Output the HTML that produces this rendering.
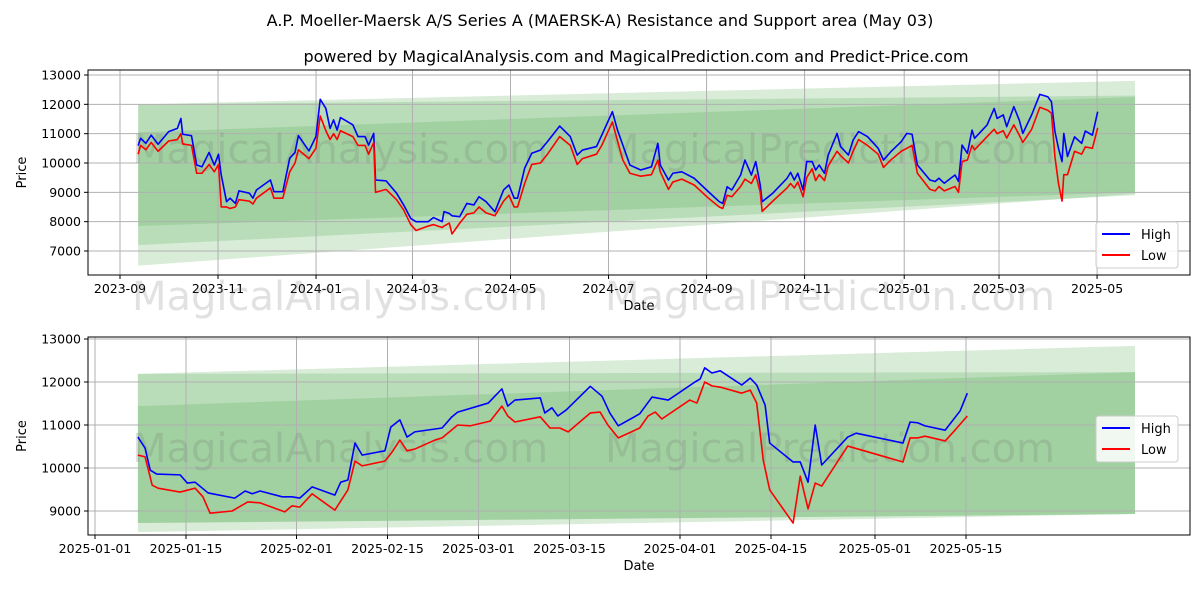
<!DOCTYPE html>
<html><head><meta charset="utf-8"><style>
body{margin:0;background:#fff;font-family:"Liberation Sans","DejaVu Sans",sans-serif}
svg text{font-family:"DejaVu Sans","Liberation Sans",sans-serif}
</style></head><body>
<svg id="c" width="1200" height="600" viewBox="0 0 1200 600" xmlns="http://www.w3.org/2000/svg">
<rect width="1200" height="600" fill="#fff"/>
<text x="600" y="26" text-anchor="middle" font-size="16">A.P. Moeller-Maersk A/S Series A (MAERSK-A) Resistance and Support area (May 03)</text>
<text x="636" y="62" text-anchor="middle" font-size="16">powered by MagicalAnalysis.com and MagicalPrediction.com and Predict-Price.com</text>
<g id="top"></g>
<g id="bot"></g>
</svg>
<script>
// ---- top chart data (days since 2023-09-01) ----
const topDays=[11.3,12.8,16.1,19.4,23.7,30.3,35.7,37.9,39.0,44.5,47.7,51.0,55.4,58.7,61.3,63.0,66.3,68.5,71.8,74.0,80.5,82.7,84.9,93.6,95.8,101.3,105.6,108.9,111.0,117.6,121.9,124.6,128.1,130.7,132.9,135.1,137.2,144.9,148.1,152.5,154.7,157.9,159.0,165.6,172.1,176.5,180.9,184.2,191.8,195.1,200.5,201.6,204.9,206.6,211.4,215.8,220.2,223.4,227.8,233.3,238.7,242.0,245.3,247.4,251.8,256.2,261.6,266.0,273.6,280.2,284.5,287.8,296.5,299.8,306.4,309.6,312.9,317.3,324.0,330.7,334.7,336.2,341.3,344.0,349.6,357.3,366.2,372.9,375.1,377.8,380.7,386.2,388.9,392.9,395.6,398.4,399.6,406.2,415.1,417.3,419.6,421.8,425.1,427.3,430.7,432.9,435.1,438.4,440.7,446.2,448.4,453.3,456.2,459.6,465.1,471.8,475.1,479.6,486.2,489.6,492.9,496.2,504.0,507.3,509.6,512.9,519.6,521.8,524.0,527.3,530.2,531.8,539.6,544.0,545.8,549.6,551.8,556.2,559.6,561.8,567.3,572.4,577.3,579.6,581.8,584.0,586.2,587.3,589.6,594.0,598.4,600.7,605.1,608.4];
const topHigh=[10590,10840,10670,10950,10640,11070,11180,11520,10980,10930,9930,9870,10360,9930,10300,9590,8680,8800,8620,9050,8970,8800,9080,9420,9020,9020,10160,10360,10930,10410,10900,12170,11860,11180,11470,11120,11550,11300,10900,10900,10610,11010,9420,9390,8970,8570,8110,8000,8000,8140,8000,8340,8280,8200,8170,8620,8570,8850,8680,8340,9080,9250,8800,8800,9820,10330,10440,10730,11260,10900,10270,10440,10560,10950,11750,11120,10610,9930,9760,9870,10670,9930,9420,9650,9700,9480,9020,8680,8620,9190,9080,9590,10100,9590,10050,9250,8680,8970,9480,9680,9420,9650,9080,10050,10050,9760,9930,9650,10270,11010,10560,10270,10780,11070,10900,10500,10100,10380,10730,11010,10980,9930,9420,9370,9480,9310,9590,9370,10610,10330,11120,10840,11300,11860,11520,11640,11240,11920,11460,11010,11640,12340,12260,12090,11070,10500,10050,11010,10220,10890,10670,11090,10950,11750];
const topLow=[10300,10600,10450,10700,10400,10750,10800,11000,10650,10600,9650,9650,9950,9700,9950,8500,8500,8450,8500,8750,8700,8600,8800,9150,8800,8800,9700,10000,10450,10150,10500,11600,11100,10800,11000,10800,11100,10900,10600,10600,10300,10700,9000,9100,8750,8400,7900,7700,7850,7900,7800,7850,7950,7580,7950,8250,8300,8500,8300,8200,8700,8900,8500,8500,9300,9950,10000,10300,10900,10600,9950,10150,10300,10600,11400,10750,10100,9650,9550,9600,10100,9700,9100,9350,9450,9250,8800,8500,8450,8900,8850,9200,9450,9300,9600,9000,8350,8700,9150,9300,9150,9350,8850,9500,9800,9400,9600,9400,9900,10400,10250,10000,10400,10800,10600,10300,9850,10100,10400,10500,10600,9650,9100,9050,9200,9050,9200,9000,10050,10100,10600,10450,10900,11150,11000,11100,10850,11300,10950,10700,11150,11900,11800,11700,10200,9300,8700,9600,9600,10400,10300,10550,10500,11200];
const topTickLabels=["2023-09","2023-11","2024-01","2024-03","2024-05","2024-07","2024-09","2024-11","2025-01","2025-03","2025-05"];
const topTickDays=[0,61,122,182,243,304,365,426,488,547,608];
const topYTicks=[7000,8000,9000,10000,11000,12000,13000];
// bands: [startDay,endDay,topStart,botStart,topEnd,botEnd]
const topBandStart=[11.3,11.3,11.3];
const topBandEnd=[631.6,631.6,631.6];
const topBandUpper0=[12000,12000,11050];
const topBandLower0=[6500,7200,7850];
const topBandUpper1=[12800,12300,12250];
const topBandLower1=[8950,8900,9000];

// ---- bottom chart data (days since 2025-01-01) ----
const botDaysH=[6.6,7.7,8.5,9.5,13.1,14.2,15.4,17.4,21.5,23.1,24.2,25.4,28.8,30.3,31.5,33.4,36.9,37.8,38.9,40.0,41.1,44.6,45.5,46.9,48.0,49.2,53.4,54.9,55.8,60.5,62.6,63.5,64.6,68.5,69.2,70.3,71.2,72.5,76.2,78.0,79.2,80.5,83.8,85.7,88.2,92.3,93.1,93.8,94.9,96.2,99.5,100.8,101.8,103.1,103.8,107.4,108.5,109.7,110.8,111.8,115.8,117.1,124.3,125.4,126.6,127.7,130.8,133.1,134.2];
const botHigh=[10720,10465,9950,9860,9840,9650,9670,9420,9300,9465,9400,9465,9330,9330,9300,9560,9370,9670,9720,10580,10300,10400,10950,11120,10720,10840,10930,11190,11300,11510,11840,11440,11580,11630,11280,11400,11210,11350,11900,11670,11280,10980,11260,11650,11580,12000,12070,12330,12210,12260,11930,12090,11930,11460,10580,10140,10140,9670,11000,10070,10720,10810,10580,11070,11050,10980,10880,11330,11740];
const botDaysL=[6.6,7.7,8.8,9.7,13.1,15.4,16.6,17.7,21.1,23.5,25.4,29.2,30.3,31.5,33.4,36.9,38.9,40.0,41.1,44.6,45.7,46.9,48.0,49.2,52.3,53.4,55.8,57.7,60.8,62.6,63.5,64.6,68.5,70.0,71.5,72.8,76.2,77.7,78.9,80.5,83.8,85.1,86.2,87.2,91.5,92.6,93.8,94.9,96.2,99.5,100.8,101.8,102.8,103.8,107.4,108.5,109.7,110.8,111.8,115.8,124.3,125.4,126.6,127.7,130.8,132.3,134.2];
const botLow=[10300,10260,9600,9530,9440,9530,9330,8950,9000,9210,9190,8980,9120,9090,9400,9020,9490,10160,10050,10160,10370,10650,10400,10440,10650,10700,11000,10980,11090,11440,11210,11070,11190,10930,10930,10840,11280,11300,11000,10700,10930,11210,11300,11140,11580,11510,12000,11910,11880,11740,11810,11510,10190,9490,8720,9810,9050,9650,9580,10510,10140,10700,10700,10740,10630,10880,11210];
const botTickLabels=["2025-01-01","2025-01-15","2025-02-01","2025-02-15","2025-03-01","2025-03-15","2025-04-01","2025-04-15","2025-05-01","2025-05-15"];
const botTickDays=[0,14,31,45,59,73,90,104,120,134];
const botYTicks=[9000,10000,11000,12000,13000];
const botBandStart=[6.6,6.6,6.6];
const botBandEnd=[160,160,160];
const botBandUpper0=[12190,12190,11440];
const botBandLower0=[8510,8720,8720];
const botBandUpper1=[12840,12230,12230];
const botBandLower1=[8930,8930,8930];

const NS="http://www.w3.org/2000/svg";
function mk(parent,tag,attrs){const e=document.createElementNS(NS,tag);for(const k in attrs)e.setAttribute(k,attrs[k]);parent.appendChild(e);return e;}

function drawChart(g,cfg){
  const {x0,x1,y0,y1,xs,ys,vMax,dOrigin,xOrigin}=cfg;
  const X=d=>xOrigin+d*xs, Y=v=>y0+cfg.yOff+(vMax-v)*ys;
  // bands
  const fills=["rgba(76,170,76,0.22)","rgba(76,170,76,0.22)","rgba(76,170,76,0.22)"];
  for(let i=0;i<cfg.bs.length;i++){
    const p=mk(g,'polygon',{points:`${X(cfg.bs[i])},${Y(cfg.bu0[i])} ${X(cfg.be[i])},${Y(cfg.bu1[i])} ${X(cfg.be[i])},${Y(cfg.bl1[i])} ${X(cfg.bs[i])},${Y(cfg.bl0[i])}`,fill:fills[i]});
    
    
  }
  // grid
  cfg.yt.forEach(v=>{
    const l=mk(g,'line',{x1:x0,x2:x1,y1:Y(v),y2:Y(v),stroke:'#b0b0b0','stroke-width':1});
    
    
    mk(g,'line',{x1:x0-4,x2:x0,y1:Y(v),y2:Y(v),stroke:'#000'});
    const t=mk(g,'text',{x:x0-7,y:Y(v)+4.5,'text-anchor':'end','font-size':12.5});
    t.textContent=v;
    
    
  });
  cfg.xd.forEach((d,i)=>{
    const l=mk(g,'line',{x1:X(d),x2:X(d),y1:y0,y2:y1,stroke:'#b0b0b0','stroke-width':1});
    
    
    mk(g,'line',{x1:X(d),x2:X(d),y1:y1,y2:y1+4,stroke:'#000'});
    const t=mk(g,'text',{x:X(d),y:y1+18,'text-anchor':'middle','font-size':12.5});
    t.textContent=cfg.xl[i];
    
    
  });
  // watermarks
  cfg.wm.forEach(w=>{
    const t=mk(g,'text',{x:w[0],y:w[1],'text-anchor':'middle','font-size':40,fill:'rgba(120,120,120,0.22)'});
    t.textContent=w[2];
    
    
  });
  // lines
  const hp=mk(g,'polyline',{points:cfg.hd.map((d,i)=>X(d)+','+Y(cfg.hv[i])).join(' '),fill:'none',stroke:'#0000ff','stroke-width':1.6,'stroke-linejoin':'round'});
  
  
  const lp=mk(g,'polyline',{points:cfg.ld.map((d,i)=>X(d)+','+Y(cfg.lv[i])).join(' '),fill:'none',stroke:'#ff0000','stroke-width':1.6,'stroke-linejoin':'round'});
  
  
  // frame
  const f=mk(g,'rect',{x:x0,y:y0,width:x1-x0,height:y1-y0,fill:'none',stroke:'#000','stroke-width':1});
  
  
  // axis titles
  const xt=mk(g,'text',{x:(x0+x1)/2,y:y1+35,'text-anchor':'middle','font-size':13});
  xt.textContent='Date';
  
  
  const yt=mk(g,'text',{x:0,y:0,'text-anchor':'middle','font-size':13,transform:`translate(26,${(y0+y1)/2}) rotate(-90)`});
  yt.textContent='Price';
  
  
  // legend
  const lg=mk(g,'g',{});
  
  
  const ly=cfg.legY;
  mk(lg,'rect',{x:1096,y:ly,width:82,height:46,rx:3,fill:'rgba(255,255,255,0.85)',stroke:'#ccc'});
  mk(lg,'line',{x1:1102,x2:1130,y1:ly+12,y2:ly+12,stroke:'#0000ff','stroke-width':2});
  const t1=mk(lg,'text',{x:1141,y:ly+17,'font-size':13});t1.textContent='High';
  
  
  mk(lg,'line',{x1:1102,x2:1130,y1:ly+33,y2:ly+33,stroke:'#ff0000','stroke-width':2});
  const t2=mk(lg,'text',{x:1141,y:ly+38,'font-size':13});t2.textContent='Low';
  
  
}

drawChart(document.getElementById('top'),{x0:88,x1:1190,y0:70,y1:275,yOff:5,xs:1.607,xOrigin:120,ys:0.02933,vMax:13000,
  bs:topBandStart,be:topBandEnd,bu0:topBandUpper0,bl0:topBandLower0,bu1:topBandUpper1,bl1:topBandLower1,
  yt:topYTicks,xd:topTickDays,xl:topTickLabels,hd:topDays,hv:topHigh,ld:topDays,lv:topLow,legY:222,
  wm:[[340,163,'MagicalAnalysis.com'],[830,163,'MagicalPrediction.com']]});
drawChart(document.getElementById('bot'),{x0:88,x1:1190,y0:337,y1:535,yOff:2,xs:6.5,xOrigin:95,ys:0.043,vMax:13000,
  bs:botBandStart,be:botBandEnd,bu0:botBandUpper0,bl0:botBandLower0,bu1:botBandUpper1,bl1:botBandLower1,
  yt:botYTicks,xd:botTickDays,xl:botTickLabels,hd:botDaysH,hv:botHigh,ld:botDaysL,lv:botLow,legY:416,
  wm:[[340,310,'MagicalAnalysis.com'],[830,310,'MagicalPrediction.com'],[340,462,'MagicalAnalysis.com'],[830,462,'MagicalPrediction.com']]});
</script>
</body></html>
